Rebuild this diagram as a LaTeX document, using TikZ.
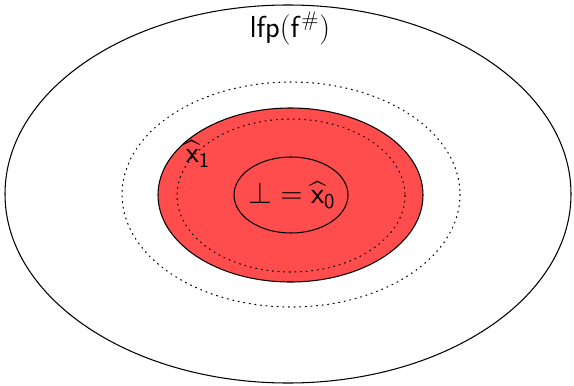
\documentclass[tikz,border=0pt]{standalone}
\usepackage{amsmath,amssymb}
\usepackage{sansmath}
\usepackage{tikz}

\begin{document}
\begin{tikzpicture}[x=.02cm,y=-.02cm,font=\LARGE\sffamily\sansmath,
  border/.style={draw=black,line width=.6pt},
  chain/.style={draw=black,line width=.6pt,dash pattern=on .6pt off 2.6pt,line cap=round},
  iterate/.style={fill=red!70,draw=black,line width=.6pt}]
 \useasboundingbox (0,0) rectangle (574,385);
 % the whole lattice
 \draw[border] (288,194) ellipse[x radius=283,y radius=189];
 % outer chain bound
 \draw[chain] (291,194.5) ellipse[x radius=169,y radius=112.5];
 % second iterate
 \draw[iterate] (290.5,195) ellipse[x radius=132.5,y radius=87];
 \draw[chain] (291,195.5) ellipse[x radius=114,y radius=76.5];
 % first iterate
 \draw[border] (291,195) ellipse[x radius=57,y radius=38];
 \node (lfp) at (290,28) {$\mathsf{lfp}(\mathsf{f}^{\#})$};
 \node (xone) at (198,154) {$\widehat{\mathsf{x}}_{\textsf{1}}$};
 \node (xzero) at (292,195) {${\perp}=\widehat{\mathsf{x}}_{\textsf{0}}$};
\end{tikzpicture}
\end{document}
